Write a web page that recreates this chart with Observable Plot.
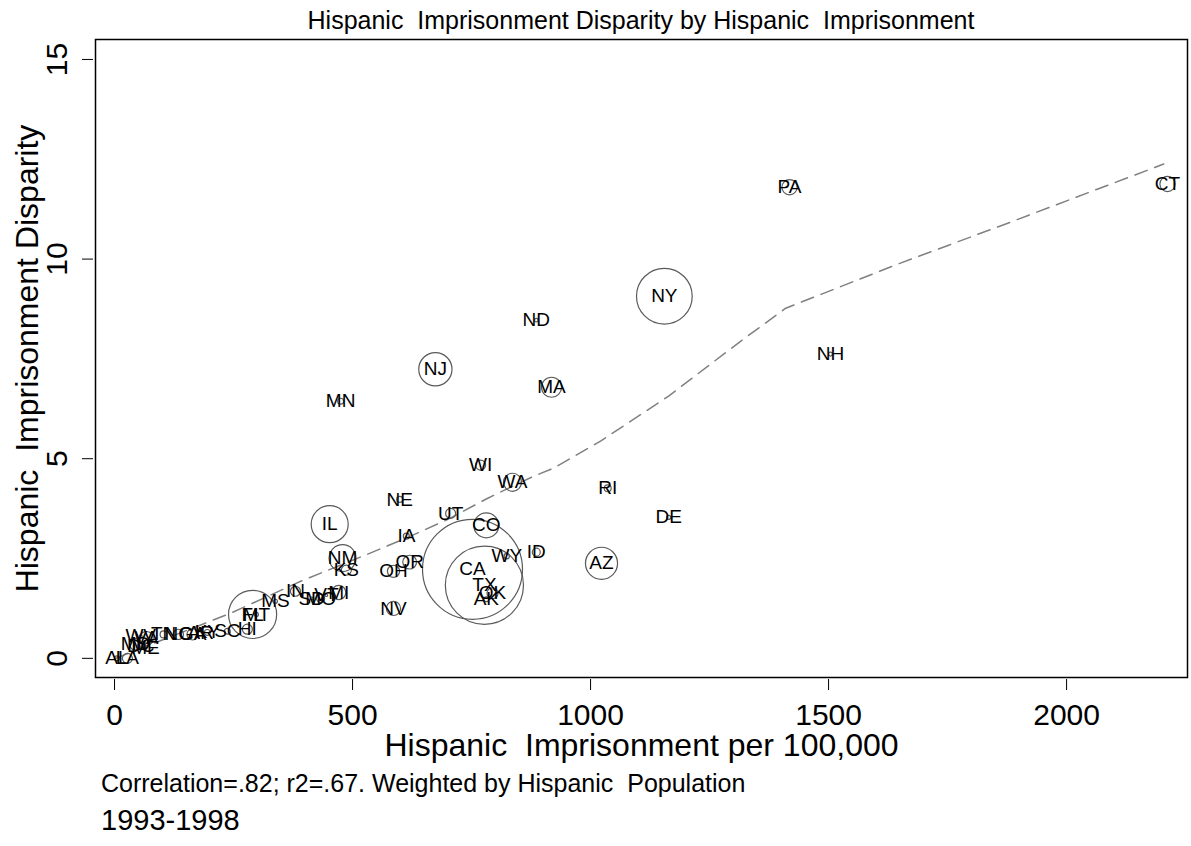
<!DOCTYPE html>
<html><head><meta charset="utf-8">
<script src="https://cdn.jsdelivr.net/npm/d3@7"></script>
<script src="https://cdn.jsdelivr.net/npm/@observablehq/plot@0.6"></script>
<style>
body{margin:0;background:#fff;font-family:"Liberation Sans",Arial,sans-serif;color:#000;}
#title{height:30px;line-height:40px;margin-left:95px;width:1092px;text-align:center;font-size:25px;white-space:pre;}
#cap1{height:26px;line-height:26px;padding-left:101px;font-size:25px;white-space:pre;}
#cap2{margin-top:6px;height:36px;line-height:36px;padding-left:101px;font-size:29px;}
svg{overflow:visible;}
svg text{white-space:pre;}
</style></head><body>
<div id="title">Hispanic  Imprisonment Disparity by Hispanic  Imprisonment</div>
<div id="chart"></div>
<div id="cap1">Correlation=.82; r2=.67. Weighted by Hispanic  Population</div>
<div id="cap2">1993-1998</div>
<script>
const states = ["CT","PA","NY","ND","NH","NJ","MA","MN","WI","WA","RI","NE","DE","IL","UT","CO","IA","ID","WY","AZ","NM","OR","KS","OH","CA","TX","OK","AK","NV","MI","IN","SD","MO","VT","MS","FL","MT","HI","SC","KY","AR","GA","NC","TN","VA","WV","ME","DC","MD","LA","AL"];
const imprisonment = [2212,1418,1155,886,1504,674,918,475,769,836,1036,599,1164,452,706,781,613,886,824,1023,479,620,487,586,752,777,794,781,586,471,380,414,433,445,338,290,298,279,237,195,181,164,134,103,67,55,65,55,44,27,5];
const disparity = [11.88,11.80,9.07,8.47,7.62,7.24,6.79,6.44,4.84,4.41,4.26,3.98,3.53,3.36,3.63,3.33,3.06,2.66,2.56,2.38,2.51,2.41,2.21,2.18,2.23,1.83,1.63,1.48,1.25,1.65,1.68,1.50,1.50,1.58,1.43,1.10,1.10,0.73,0.68,0.65,0.63,0.60,0.60,0.60,0.50,0.55,0.25,0.30,0.35,0.00,0.00];
const hispPop = [220,220,2950,12,14,1050,380,34,95,310,46,34,15,1300,95,590,34,60,27,980,690,180,95,140,9500,5800,115,23,190,190,95,8,60,6,15,2200,15,95,32,32,32,120,100,45,180,8,7,45,130,95,23];
const fitX = [2,244,391,532,622,700,784,880,922,1021,1164,1315,1410,1651,1861,2204];
const fitY = [0.00,1.13,1.93,2.61,3.06,3.48,4.01,4.56,4.76,5.44,6.57,7.94,8.77,9.90,10.83,12.38];
const xTicks = [0,500,1000,1500,2000];
const yTicks = [0,5,10,15];

const data = states.map((s,i)=>({state:s, x:imprisonment[i], y:disparity[i], pop:hispPop[i]}));
const fit = fitX.map((x,i)=>({x, y:fitY[i]}));

const chart = Plot.plot({
  width:1191, height:740, marginTop:9, marginLeft:95, marginRight:4, marginBottom:93,
  style:{fontFamily:"Liberation Sans, Arial, sans-serif", background:"white", color:"black", overflow:"visible"},
  x:{domain:[-40,2254]},
  y:{domain:[-0.48,15.5]},
  r:{type:"sqrt", domain:[0,9500], range:[0,50]},
  marks:[
    Plot.axisX({ticks:xTicks, tickSize:11, tickPadding:13, dy:2, fontSize:30, label:null, tickFormat:d=>String(d)}),
    Plot.axisY({ticks:yTicks, tickSize:11, dx:-2, tickFormat:()=>"", label:null}),
    Plot.text(yTicks, {y:d=>d, frameAnchor:"left", dx:-38, rotate:-90, textAnchor:"middle", text:d=>String(d), fontSize:30}),
    Plot.text(["Hispanic  Imprisonment per 100,000"], {frameAnchor:"bottom", dy:78, textAnchor:"middle", fontSize:32}),
    Plot.text(["Hispanic  Imprisonment Disparity"], {frameAnchor:"left", dx:-68, rotate:-90, textAnchor:"middle", fontSize:32}),
    Plot.line(fit, {x:"x", y:"y", stroke:"#808080", strokeWidth:1.5, strokeDasharray:"13,8"}),
    Plot.dot(data, {x:"x", y:"y", r:"pop", stroke:"#5a5a5a", strokeWidth:1.2, fill:"none"}),
    Plot.text(data, {x:"x", y:"y", text:"state", fontSize:19, fill:"black"}),
    Plot.frame({stroke:"black", strokeWidth:1.5})
  ]
});
document.getElementById("chart").appendChild(chart);
</script>
</body></html>
